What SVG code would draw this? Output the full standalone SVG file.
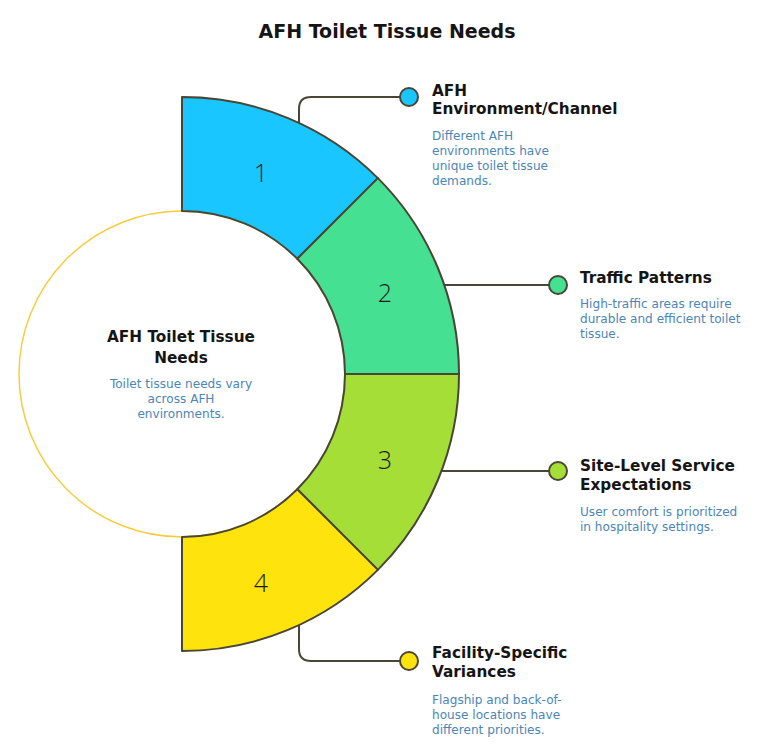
<svg xmlns="http://www.w3.org/2000/svg" width="768" height="748" viewBox="0 0 768 748">
<style>
.title{font-family:"DejaVu Sans","Open Sans",sans-serif;font-weight:700;font-size:19px;fill:#151515}
.head{font-family:"DejaVu Sans","Open Sans",sans-serif;font-weight:700;font-size:15.3px;fill:#151515}
.desc{font-family:"DejaVu Sans","Open Sans",sans-serif;font-size:12.1px;fill:#4d85b6}
.num{font-family:"Open Sans","Liberation Sans",sans-serif;font-weight:300;font-size:25px;fill:#1a1a1a}
.seg{stroke:#4a4636;stroke-width:2;stroke-linejoin:round}
.dot{stroke:#4a4636;stroke-width:2}
.conn{fill:none;stroke:#4a4636;stroke-width:2}
</style>
<rect width="768" height="748" fill="#ffffff"/>
<text class="title" x="387" y="38" text-anchor="middle">AFH Toilet Tissue Needs</text>

<g id="center">
<circle cx="182" cy="374" r="163" fill="#ffffff" stroke="#f7cc3c" stroke-width="1.5"/>
<text class="head" x="181" y="342" text-anchor="middle">AFH Toilet Tissue</text>
<text class="head" x="181" y="363" text-anchor="middle">Needs</text>
<text class="desc" x="181" y="388" text-anchor="middle">Toilet tissue needs vary</text>
<text class="desc" x="181" y="403" text-anchor="middle">across AFH</text>
<text class="desc" x="181" y="418" text-anchor="middle">environments.</text>
</g>

<g id="connectors">
<path class="conn" d="M299,123 V109 Q299,97 311,97 H400"/>
<path class="conn" d="M444,285 H549"/>
<path class="conn" d="M441.5,471 H549"/>
<path class="conn" d="M299,625 V649 Q299,661 311,661 H400"/>
</g>

<g id="seg1">
<path class="seg" fill="#1ac6ff" d="M182,97 A277,277 0 0 1 377.87,178.13 L297.26,258.74 A163,163 0 0 0 182,211 Z"/>
<text class="num" x="261" y="182" text-anchor="middle">1</text>
</g>
<g id="seg2">
<path class="seg" fill="#45e092" d="M377.87,178.13 A277,277 0 0 1 459,374 L345,374 A163,163 0 0 0 297.26,258.74 Z"/>
<text class="num" x="385" y="302" text-anchor="middle">2</text>
</g>
<g id="seg3">
<path class="seg" fill="#a5de37" d="M459,374 A277,277 0 0 1 377.87,569.87 L297.26,489.26 A163,163 0 0 0 345,374 Z"/>
<text class="num" x="385" y="469" text-anchor="middle">3</text>
</g>
<g id="seg4">
<path class="seg" fill="#ffe30c" d="M377.87,569.87 A277,277 0 0 1 182,651 L182,537 A163,163 0 0 0 297.26,489.26 Z"/>
<text class="num" x="261" y="592" text-anchor="middle">4</text>
</g>

<g id="node1">
<circle class="dot" cx="409" cy="97" r="9" fill="#1ac6ff"/>
<text class="head" x="432" y="96">AFH</text>
<text class="head" x="432" y="114">Environment/Channel</text>
<text class="desc" x="432" y="140">Different AFH</text>
<text class="desc" x="432" y="155">environments have</text>
<text class="desc" x="432" y="170">unique toilet tissue</text>
<text class="desc" x="432" y="185">demands.</text>
</g>
<g id="node2">
<circle class="dot" cx="558" cy="285" r="9" fill="#45e092"/>
<text class="head" x="580" y="283">Traffic Patterns</text>
<text class="desc" x="580" y="308">High-traffic areas require</text>
<text class="desc" x="580" y="323">durable and efficient toilet</text>
<text class="desc" x="580" y="338">tissue.</text>
</g>
<g id="node3">
<circle class="dot" cx="558" cy="471" r="9" fill="#a5de37"/>
<text class="head" x="580" y="471">Site-Level Service</text>
<text class="head" x="580" y="490">Expectations</text>
<text class="desc" x="580" y="516">User comfort is prioritized</text>
<text class="desc" x="580" y="531">in hospitality settings.</text>
</g>
<g id="node4">
<circle class="dot" cx="409" cy="661" r="9" fill="#ffe30c"/>
<text class="head" x="432" y="658">Facility-Specific</text>
<text class="head" x="432" y="677">Variances</text>
<text class="desc" x="432" y="704">Flagship and back-of-</text>
<text class="desc" x="432" y="719">house locations have</text>
<text class="desc" x="432" y="734">different priorities.</text>
</g>
</svg>
